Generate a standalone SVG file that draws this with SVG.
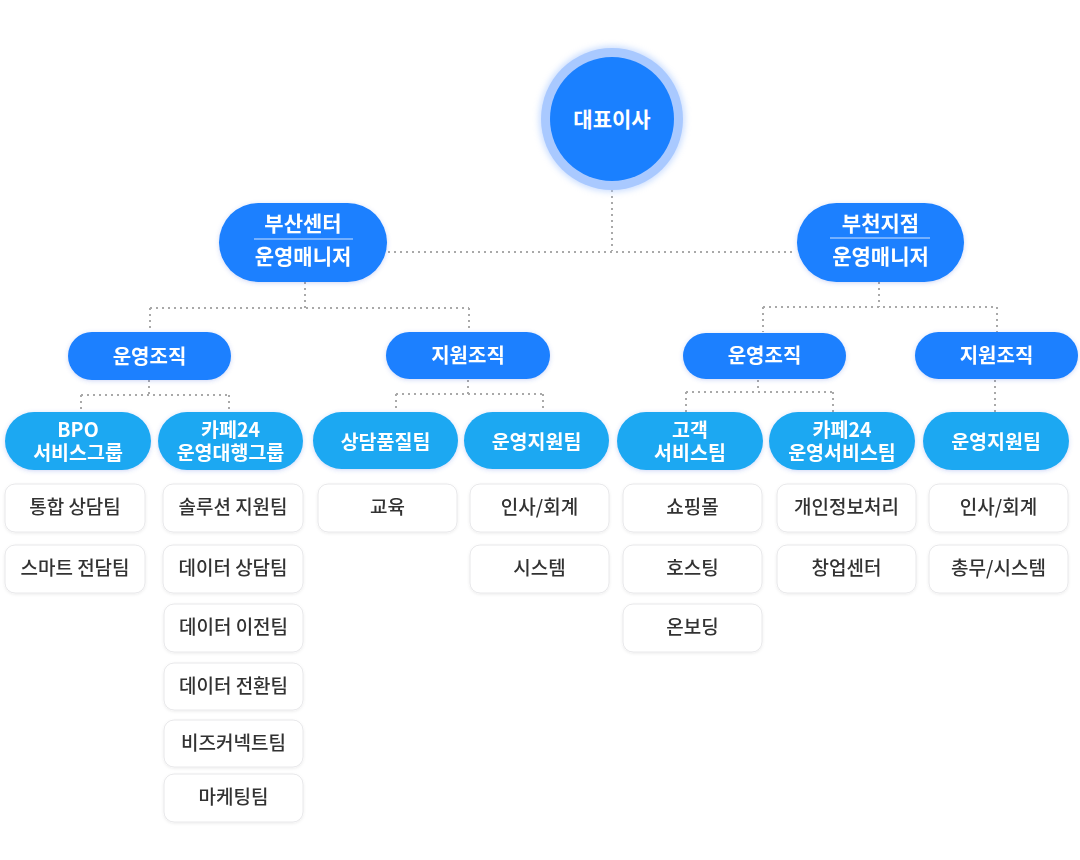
<svg xmlns="http://www.w3.org/2000/svg" width="1080" height="860" viewBox="0 0 1080 860">
<defs>
<filter id="glow" x="-20%" y="-30%" width="140%" height="160%">
<feDropShadow dx="0" dy="1" stdDeviation="2" flood-color="#3b5bdb" flood-opacity="0.25"/>
</filter>
<filter id="soft" x="-10%" y="-20%" width="120%" height="140%">
<feDropShadow dx="0" dy="1" stdDeviation="1.5" flood-color="#000" flood-opacity="0.08"/>
</filter>
<filter id="halo" x="-30%" y="-30%" width="160%" height="160%">
<feGaussianBlur stdDeviation="3"/>
</filter>
</defs>
<style>
text{font-family:"Noto Sans CJK KR","Noto Sans",sans-serif;text-anchor:middle}
.main{fill:#1a80ff}
.grp{fill:#1ba8f2}
.wt{fill:#fff;font-weight:700;font-size:20px}
.wg{fill:#fff;font-weight:700;font-size:19.5px}
.wt2{fill:#fff;font-weight:700;font-size:21px}
.box{fill:#fff;stroke:#e8e8ea;stroke-width:1}
.bt{fill:#333;font-size:19px;font-weight:500}
.con{fill:none;stroke:#a9a9a9;stroke-width:2;stroke-dasharray:2 4}
</style>
<rect width="1080" height="860" fill="#fff"/>

<g id="connectors">
<path class="con" d="M612 190 V251"/>
<path class="con" d="M388 252 H796"/>
<path class="con" d="M305 282 V308 M150 308 H469 M150 308 V332 M469 308 V332"/>
<path class="con" d="M879 282 V307 M763 307 H997 M763 307 V332 M997 307 V332"/>
<path class="con" d="M149 380 V395 M81 395 H229 M81 395 V412 M229 395 V412"/>
<path class="con" d="M468 380 V394 M396 394 H543 M396 394 V412 M543 394 V412"/>
<path class="con" d="M758 380 V392 M686 392 H833 M686 392 V412 M833 392 V412"/>
<path class="con" d="M995 380 V412"/>
</g>

<g id="ceo">
<circle cx="612" cy="119" r="73" fill="#a8c8ff" opacity="0.6" filter="url(#halo)"/>
<circle cx="612" cy="119" r="71" fill="#a9c9ff"/>
<circle cx="612" cy="119" r="62" class="main"/>
<text x="612" y="127" class="wt2">대표이사</text>
</g>

<g id="busan" filter="url(#glow)">
<rect x="219" y="203" width="168" height="79" rx="39.5" class="main"/>
<text class="wt2"><tspan x="303" y="231">부산센터</tspan><tspan x="303" y="264">운영매니저</tspan></text>
<line x1="254" y1="239" x2="353" y2="239" stroke="#cfe2ff" stroke-width="1"/>
</g>

<g id="bucheon" filter="url(#glow)">
<rect x="797" y="203" width="167" height="79" rx="39.5" class="main"/>
<text class="wt2"><tspan x="880.5" y="231">부천지점</tspan><tspan x="880.5" y="264">운영매니저</tspan></text>
<line x1="830" y1="238" x2="930" y2="238" stroke="#cfe2ff" stroke-width="1"/>
</g>

<g id="busan-ops" filter="url(#glow)">
<rect x="68" y="332" width="163" height="48" rx="24" class="main"/>
<text x="149.5" y="364" class="wt">운영조직</text>
</g>
<g id="busan-sup" filter="url(#glow)">
<rect x="386" y="332" width="164" height="47" rx="23.5" class="main"/>
<text x="468" y="363" class="wt">지원조직</text>
</g>
<g id="bucheon-ops" filter="url(#glow)">
<rect x="683" y="333" width="163" height="46" rx="23" class="main"/>
<text x="764.5" y="363" class="wt">운영조직</text>
</g>
<g id="bucheon-sup" filter="url(#glow)">
<rect x="915" y="332" width="163" height="47" rx="23.5" class="main"/>
<text x="996.5" y="363" class="wt">지원조직</text>
</g>

<g id="g-bpo" filter="url(#glow)">
<rect x="5" y="412" width="146" height="58" rx="29" class="grp"/>
<text class="wg"><tspan x="78" y="437">BPO</tspan><tspan x="78" y="460">서비스그룹</tspan></text>
</g>
<g id="g-cafe-agency" filter="url(#glow)">
<rect x="158" y="412" width="145" height="58" rx="29" class="grp"/>
<text class="wg"><tspan x="230.5" y="437">카페24</tspan><tspan x="230.5" y="460">운영대행그룹</tspan></text>
</g>
<g id="g-quality" filter="url(#glow)">
<rect x="313" y="412" width="145" height="57" rx="28.5" class="grp"/>
<text x="385.5" y="449" class="wg">상담품질팀</text>
</g>
<g id="g-support1" filter="url(#glow)">
<rect x="464" y="412" width="145" height="57" rx="28.5" class="grp"/>
<text x="536.5" y="449" class="wg">운영지원팀</text>
</g>
<g id="g-cs" filter="url(#glow)">
<rect x="617" y="412" width="146" height="58" rx="29" class="grp"/>
<text class="wg"><tspan x="690" y="437">고객</tspan><tspan x="690" y="460">서비스팀</tspan></text>
</g>
<g id="g-cafe-ops" filter="url(#glow)">
<rect x="769" y="412" width="146" height="58" rx="29" class="grp"/>
<text class="wg"><tspan x="842" y="437">카페24</tspan><tspan x="842" y="460">운영서비스팀</tspan></text>
</g>
<g id="g-support2" filter="url(#glow)">
<rect x="923" y="412" width="146" height="58" rx="29" class="grp"/>
<text x="996" y="449" class="wg">운영지원팀</text>
</g>

<g id="b1" filter="url(#soft)"><rect x="5" y="484" width="140" height="48" rx="10" class="box"/><text x="75" y="514" class="bt">통합 상담팀</text></g>
<g id="b2" filter="url(#soft)"><rect x="5" y="545" width="140" height="48" rx="10" class="box"/><text x="75" y="575" class="bt">스마트 전담팀</text></g>

<g id="b3" filter="url(#soft)"><rect x="163" y="484" width="140" height="48" rx="10" class="box"/><text x="233" y="514" class="bt">솔루션 지원팀</text></g>
<g id="b4" filter="url(#soft)"><rect x="163" y="545" width="140" height="48" rx="10" class="box"/><text x="233" y="575" class="bt">데이터 상담팀</text></g>
<g id="b5" filter="url(#soft)"><rect x="164" y="604" width="139" height="48" rx="10" class="box"/><text x="233.5" y="634" class="bt">데이터 이전팀</text></g>
<g id="b6" filter="url(#soft)"><rect x="164" y="663" width="139" height="47" rx="10" class="box"/><text x="233.5" y="693" class="bt">데이터 전환팀</text></g>
<g id="b7" filter="url(#soft)"><rect x="164" y="720" width="139" height="47" rx="10" class="box"/><text x="233.5" y="750" class="bt">비즈커넥트팀</text></g>
<g id="b8" filter="url(#soft)"><rect x="164" y="774" width="139" height="48" rx="10" class="box"/><text x="233.5" y="804" class="bt">마케팅팀</text></g>

<g id="b9" filter="url(#soft)"><rect x="318" y="484" width="139" height="48" rx="10" class="box"/><text x="387.5" y="514" class="bt">교육</text></g>

<g id="b10" filter="url(#soft)"><rect x="470" y="484" width="139" height="48" rx="10" class="box"/><text x="539.5" y="514" class="bt">인사/회계</text></g>
<g id="b11" filter="url(#soft)"><rect x="470" y="545" width="139" height="48" rx="10" class="box"/><text x="539.5" y="575" class="bt">시스템</text></g>

<g id="b12" filter="url(#soft)"><rect x="623" y="484" width="139" height="48" rx="10" class="box"/><text x="692.5" y="514" class="bt">쇼핑몰</text></g>
<g id="b13" filter="url(#soft)"><rect x="623" y="545" width="139" height="48" rx="10" class="box"/><text x="692.5" y="575" class="bt">호스팅</text></g>
<g id="b14" filter="url(#soft)"><rect x="623" y="604" width="139" height="48" rx="10" class="box"/><text x="692.5" y="634" class="bt">온보딩</text></g>

<g id="b15" filter="url(#soft)"><rect x="777" y="484" width="139" height="48" rx="10" class="box"/><text x="846.5" y="514" class="bt">개인정보처리</text></g>
<g id="b16" filter="url(#soft)"><rect x="777" y="545" width="139" height="48" rx="10" class="box"/><text x="846.5" y="575" class="bt">창업센터</text></g>

<g id="b17" filter="url(#soft)"><rect x="929" y="484" width="139" height="48" rx="10" class="box"/><text x="998.5" y="514" class="bt">인사/회계</text></g>
<g id="b18" filter="url(#soft)"><rect x="929" y="545" width="139" height="48" rx="10" class="box"/><text x="998.5" y="575" class="bt">총무/시스템</text></g>
</svg>
